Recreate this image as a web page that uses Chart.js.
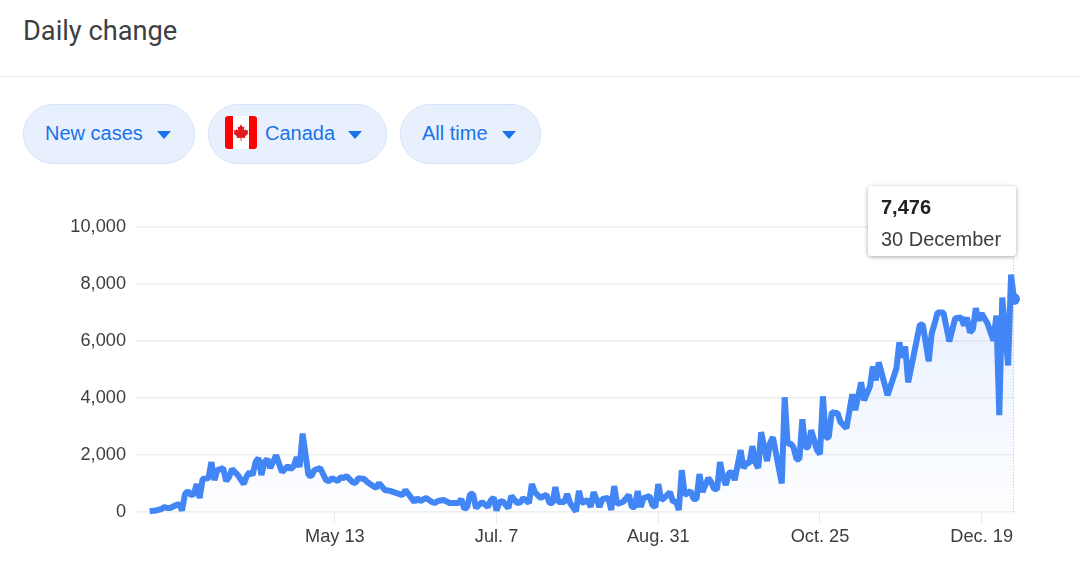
<!DOCTYPE html>
<html>
<head>
<meta charset="utf-8">
<title>Daily change</title>
<script src="https://cdn.jsdelivr.net/npm/chart.js@4"></script>
<style>
  html, body { margin: 0; padding: 0; background: #fff; }
  body { position: relative; width: 1080px; height: 570px; overflow: hidden; font-family: "Liberation Sans", Arial, sans-serif; }
  #circle { position: absolute; left: 0; top: 0; }
  #title { position: absolute; left: 23px; top: 15px; font: 400 27.2px/32px Roboto, sans-serif; color: #3c4043; }
  #rule { position: absolute; left: 0; top: 76px; width: 1080px; height: 1px; background: #ebebeb; }
  .pill { position: absolute; top: 104px; height: 58px; border: 1px solid #d2e3fc; border-radius: 30px; background: #e8f0fe; color: #1a73e8; font-size: 20px; line-height: 57px; }
  .pill span { position: absolute; top: 0; white-space: nowrap; }
  .pill i { position: absolute; top: 26px; width: 0; height: 0; border-left: 7px solid transparent; border-right: 7px solid transparent; border-top: 8px solid #1a73e8; }
  .flag { position: absolute; left: 16px; top: 11px; width: 32px; height: 33px; border-radius: 3px; }
  #tip { position: absolute; left: 868px; top: 186px; width: 148px; height: 70px; background: #fff; border-radius: 3px; box-shadow: 0 1px 4px rgba(0,0,0,.35); color: #3c4043; font-size: 20px; }
  #tip b { position: absolute; left: 13px; top: 10px; color: #202124; }
  #tip span { position: absolute; left: 13px; top: 42px; white-space: nowrap; }
</style>
</head>
<body>
<div id="title">Daily change</div>
<div id="rule"></div>
<div class="pill" style="left:23px;width:170px"><span style="left:21px">New cases</span><i style="left:133px"></i></div>
<div class="pill" style="left:208px;width:177px">
  <svg class="flag" viewBox="0 0 32 32" preserveAspectRatio="none">
    <rect width="32" height="32" fill="#fff"/>
    <rect width="8" height="32" fill="#f00"/>
    <rect x="24" width="8" height="32" fill="#f00"/>
    <polygon fill="#e0181f" points="16,8 17.6,11 19.4,10.2 18.7,14.4 20.7,12.6 21.2,14 23.4,13.6 22.6,16.2 23.6,16.8 20,19.8 20.4,21.4 16.4,21 16.5,24 15.5,24 15.6,21 11.6,21.4 12,19.8 8.4,16.8 9.4,16.2 8.6,13.6 10.8,14 11.3,12.6 13.3,14.4 12.6,10.2 14.4,11"/>
  </svg>
  <span style="left:56px">Canada</span><i style="left:139px"></i>
</div>
<div class="pill" style="left:400px;width:139px"><span style="left:21px">All time</span><i style="left:101px"></i></div>
<canvas id="circle" width="1080" height="570"></canvas>
<div id="tip"><b>7,476</b><span>30 December</span></div>
<script>
// days since 11 March, only the days where the line visibly turns
const days = [0,2,4,5,6,7,9,10,11,12,13,14,15,16,17,18,20,21,22,23,25,26,27,28,30,32,33,34,35,36,37,38,39,40,41,43,45,47,48,49,50,51,52,54,55,56,58,60,61,62,64,65,66,67,69,70,71,73,74,77,78,80,82,84,86,87,90,91,92,94,96,97,98,100,102,105,106,107,108,109,110,111,113,115,116,117,118,119,120,122,123,125,126,127,129,130,131,133,134,135,136,137,138,139,141,142,143,145,146,147,149,150,151,153,154,156,157,158,159,161,163,164,165,166,167,168,170,171,172,173,174,175,177,178,179,180,181,182,184,185,186,187,188,190,191,192,193,194,195,196,197,198,199,201,202,203,204,205,206,207,208,210,211,212,215,216,217,218,219,220,221,222,223,224,225,227,228,229,230,231,232,234,235,237,239,240,242,243,245,246,247,248,251,254,255,256,257,258,260,262,263,265,266,267,268,270,272,274,276,277,278,279,280,281,282,283,285,287,288,289,290,292,293,294];
const cases = [30,50,105,175,140,140,245,280,50,630,735,595,630,980,490,1155,1190,1750,1120,1470,1540,1085,1225,1505,1295,980,1260,1400,1295,1750,1890,1295,1750,1855,1540,1995,1400,1610,1505,1610,1925,1575,2750,1295,1260,1470,1540,1120,1085,1190,1085,1225,1190,1260,1050,1015,1190,1155,1050,840,1015,770,735,665,595,770,350,490,385,490,350,315,385,420,315,315,455,105,175,630,630,140,350,175,400,510,50,350,385,140,560,315,330,490,315,980,700,490,560,600,315,315,875,350,350,630,315,20,735,315,420,175,700,175,455,490,70,910,280,350,595,175,175,735,175,490,560,245,175,980,420,490,700,350,385,70,1470,595,735,455,455,1330,700,1190,1050,805,805,1750,1225,945,1365,1400,1120,2170,1540,1715,1715,2310,1750,1540,2800,1785,2415,2625,1000,4025,2380,2415,2275,1855,1855,3255,2275,2275,2870,2170,2030,4060,2600,2625,3500,3465,3150,2940,4130,3570,4550,3920,4410,5110,4620,5250,4095,5040,5950,5425,5810,4550,5565,6580,6560,5285,6265,6615,7000,7000,5985,6800,6825,6545,6825,6300,6405,7150,6720,6965,6615,6020,6895,3395,7525,5145,8330,7476];
const tickDays = [63,118,173,228,283];
const tickLabels = ['May 13','Jul. 7','Aug. 31','Oct. 25','Dec. 19'];
const cursorDays = [294,294];
const cursorValues = [0,8960];

const tick_font = { family: '"Liberation Sans", Arial, sans-serif', size: 18.2 };

new Chart(document.getElementById('circle'), {
    type: 'line',
    data: {
        datasets: [
            {
                label: 'Cursor',
                data: cursorDays.map((d, i) => ({ x: d, y: cursorValues[i] })),
                borderColor: '#8a8a8a',
                borderWidth: 1,
                borderDash: [1, 2],
                pointRadius: 0
            },
            {
                label: 'New cases',
                data: days.map((d, i) => ({ x: d, y: cases[i] })),
                borderColor: '#4285f4',
                borderWidth: 6,
                borderJoinStyle: 'bevel',
                tension: 0,
                clip: false,
                fill: 'origin',
                backgroundColor: (ctx) => {
                    const area = ctx.chart.chartArea;
                    if (!area) return 'transparent';
                    const g = ctx.chart.ctx.createLinearGradient(0, area.top + 50, 0, area.bottom);
                    g.addColorStop(0, 'rgba(66,133,244,0.13)');
                    g.addColorStop(1, 'rgba(66,133,244,0.01)');
                    return g;
                },
                pointRadius: (ctx) => ctx.dataIndex === days.length - 1 ? 6 : 0,
                pointBackgroundColor: '#4285f4',
                pointBorderWidth: 0
            }
        ]
    },
    options: {
        responsive: false,
        animation: false,
        layout: { padding: { top: 227, right: 66, left: 0, bottom: 0 } },
        plugins: {
            legend: { display: false },
            title: { display: false },
            tooltip: { enabled: false }
        },
        scales: {
            x: {
                type: 'linear',
                min: -5,
                max: 294,
                afterBuildTicks: (axis) => { axis.ticks = tickDays.map(v => ({ value: v })); },
                afterFit: (axis) => { axis.height = 58; },
                ticks: {
                    autoSkip: false,
                    maxRotation: 0,
                    padding: 2,
                    color: '#3c4043',
                    font: tick_font,
                    callback: (v) => tickLabels[tickDays.indexOf(v)]
                },
                grid: { drawOnChartArea: false, drawTicks: true, tickLength: 12, color: '#ebebeb' },
                border: { display: false }
            },
            y: {
                min: 0,
                max: 10000,
                afterFit: (axis) => { axis.width = 135; },
                ticks: {
                    stepSize: 2000,
                    padding: 9,
                    color: '#3c4043',
                    font: tick_font,
                    callback: (v) => v.toLocaleString('en-US')
                },
                grid: { drawTicks: false, color: '#f0f0f0', lineWidth: 1.5 },
                border: { display: false }
            }
        }
    }
});
</script>
</body>
</html>
